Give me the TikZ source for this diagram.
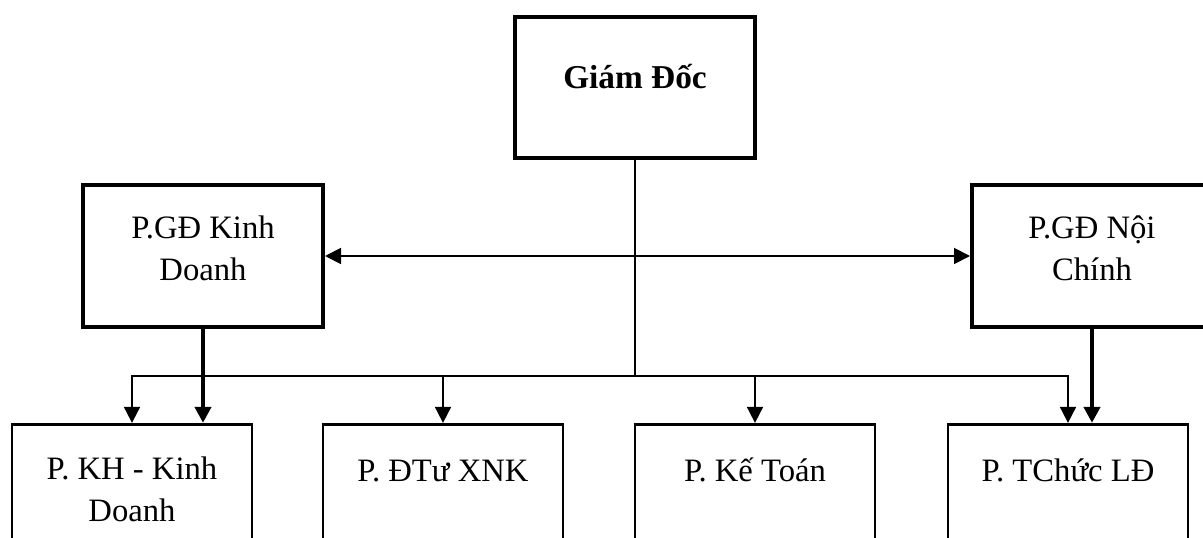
\documentclass[tikz,border=0pt]{standalone}
\usepackage{fontspec}
\setmainfont{Liberation Serif}
\usetikzlibrary{arrows.meta}

\tikzset{
  topbox/.style={draw, line width=3pt, minimum width=180pt, minimum height=106pt, inner sep=0pt},
  unitbox/.style={draw, line width=2.2pt, minimum width=180pt, minimum height=106pt, inner sep=0pt},
  lbl/.style={font=\fontsize{24.5}{31.5}\selectfont, align=center, inner sep=0pt, anchor=base},
  thinline/.style={line width=1.4pt},
  thinarrow/.style={line width=1.4pt, -{Triangle[length=12pt, width=12pt]}},
  thickarrow/.style={line width=3pt, -{Triangle[length=12pt, width=12pt]}},
  twoway/.style={line width=1.4pt, {Triangle[length=12pt, width=12pt]}-{Triangle[length=12pt, width=12pt]}}
}

\begin{document}
\begin{tikzpicture}[x=0.75pt, y=-0.75pt]
  \useasboundingbox (0,0) rectangle (1203,538);
  \clip (0,0) rectangle (1203,538);
  \fill[white] (0,0) rectangle (1203,538);

  % management level
  \node[topbox] (gd) at (635,87.5) {};
  \node[topbox] (kd) at (203,256) {};
  \node[topbox] (nc) at (1092,256) {};

  % departments
  \node[unitbox] (b1) at (132,495) {};
  \node[unitbox] (b2) at (443,495) {};
  \node[unitbox] (b3) at (755,495) {};
  \node[unitbox] (b4) at (1068,495) {};

  % labels (anchored on the baseline of their last line)
  \node[lbl, font=\fontsize{25}{31.5}\selectfont\bfseries] (gdtext) at (635,89) {Giám Đốc};
  \node[lbl] (kdtext) at (203,281) {P.GĐ Kinh\\Doanh};
  \node[lbl] (nctext) at (1092,281) {P.GĐ Nội\\Chính};
  \node[lbl] (b1text) at (132,521) {P. KH - Kinh\\Doanh};
  \node[lbl] (b2text) at (443,481) {P. ĐTư XNK};
  \node[lbl] (b3text) at (755,481) {P. Kế Toán};
  \node[lbl] (b4text) at (1068,481) {P. TChức LĐ};

  % direct line from the director to every department
  \coordinate (bus) at (635,376);
  \draw[thinline] (gd.south) -- (bus);
  \draw[thinarrow] (bus) -| (b1.north);
  \draw[thinarrow] (bus) -| (b4.north);
  \draw[thinarrow] (b2.north |- bus) -- (b2.north);
  \draw[thinarrow] (b3.north |- bus) -- (b3.north);

  % deputy directors
  \draw[twoway] (kd.east) -- (nc.west);
  \draw[thickarrow] (kd.south) -- (kd.south |- b1.north);
  \draw[thickarrow] (nc.south) -- (nc.south |- b4.north);
\end{tikzpicture}
\end{document}
